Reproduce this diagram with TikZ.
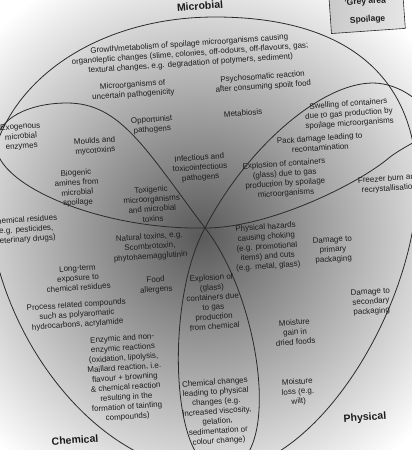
\documentclass[tikz,border=0pt]{standalone}
\usepackage{fontspec}
\setmainfont{Liberation Sans}
\definecolor{inkDark}{HTML}{1C1C1C}
\definecolor{lineDark}{HTML}{2B2B2B}
\definecolor{legendGray}{HTML}{C9C9C9}
\definecolor{legendLight}{HTML}{E6E6E6}

\begin{document}
\begin{tikzpicture}[
        x=1pt, y=-1pt,
        lbl/.style={align=center, inner sep=0pt, rotate=4, text=inkDark, font=\fontsize{8}{9.8}\selectfont},
        head/.style={lbl, font=\fontsize{10.5}{12}\selectfont\bfseries},
        petal/.style={draw=lineDark, line width=0.8pt},
        legendbox/.style={lbl, draw=lineDark, line width=0.6pt, left color=legendGray, right color=legendLight, minimum width=74pt, minimum height=40pt, font=\fontsize{8.5}{10}\selectfont\bfseries}
      ]
        \useasboundingbox (0,0) rectangle (412,450);
        \clip (0,0) rectangle (412,450);
        % grey area
        \shade[inner color=black!65, outer color=white] (200,236) circle (290pt);
        % outer boundary
        \draw[petal] (215,17) .. controls (345,17) and (417,75) .. (417,185)
            .. controls (417,300) and (320,472) .. (215,472)
            .. controls (90,472) and (-12,320) .. (-12,195)
            .. controls (-12,90) and (90,17) .. cycle;
        % petals
        \draw[petal] (205,228) .. controls (145,148) and (120,103) .. (67,103)
            .. controls (30,103) and (-4,118) .. (-4,145)
            .. controls (-4,185) and (100,230) .. cycle;
        \draw[petal] (205,228) .. controls (245,150) and (320,83) .. (373,83)
            .. controls (400,83) and (430,105) .. (430,124)
            .. controls (430,138) and (410,142) .. (390,157)
            .. controls (360,183) and (270,228) .. cycle;
        \draw[petal] (205,228) .. controls (165,300) and (170,470) .. (220,470)
            .. controls (285,470) and (262,300) .. cycle;
        % headings
        \node[head] (microbial) at (200,6) {Microbial};
        \node[head] (chemical) at (75,440) {Chemical};
        \node[head] (physical) at (365,418) {Physical};
        \node[legendbox] (legend) at (367,11) {'Grey area'\\[8pt]Spoilage};
        % microbial
        \node[lbl] (growth) at (190,54) {Growth/metabolism of spoilage microorganisms causing\\organoleptic changes (slime, colonies, off-odours, off-flavours, gas;\\textural changes, e.g. degradation of polymers, sediment)};
        \node[lbl] (uncertain) at (133,90) {Microorganisms of\\uncertain pathogenicity};
        \node[lbl] (psycho) at (263,82) {Psychosomatic reaction\\after consuming spoilt food};
        \node[lbl] (opportunist) at (152,125) {Opportunist\\pathogens};
        \node[lbl] (metabiosis) at (243,113) {Metabiosis};
        % microbial and chemical
        \node[lbl] (exogenous) at (21,137) {Exogenous\\microbial\\enzymes};
        \node[lbl] (moulds) at (95,146) {Moulds and\\mycotoxins};
        \node[lbl] (biogenic) at (77,188) {Biogenic\\amines from\\microbial\\spoilage};
        \node[lbl] (toxigenic) at (152,204) {Toxigenic\\microorganisms\\and microbial\\toxins};
        \node[lbl] (infectious) at (200,168) {Infectious and\\toxicoinfectious\\pathogens};
        % microbial and physical
        \node[lbl] (swelling) at (349,114) {Swelling of containers\\due to gas production by\\spoilage microorganisms};
        \node[lbl] (pack) at (320,143) {Pack damage leading to\\recontamination};
        \node[lbl] (explmicro) at (285,179) {Explosion of containers\\(glass) due to gas\\production by spoilage\\microorganisms};
        % chemical
        \node[lbl] (residues) at (25,230) {Chemical residues\\(e.g. pesticides,\\veterinary drugs)};
        \node[lbl] (natural) at (150,247) {Natural toxins, e.g.\\Scombrotoxin,\\phytohaemagglutinin};
        \node[lbl] (longterm) at (78,278) {Long-term\\exposure to\\chemical residues};
        \node[lbl] (allergens) at (156,285) {Food\\allergens};
        \node[lbl] (process) at (77,315) {Process related compounds\\such as polyaromatic\\hydrocarbons, acrylamide};
        \node[lbl] (enzymic) at (125,378) {Enzymic and non-\\enzymic reactions\\(oxidation, lipolysis,\\Maillard reaction, i.e.\\flavour + browning\\\& chemical reaction\\resulting in the\\formation of tainting\\compounds)};
        % chemical and physical
        \node[lbl] (explchem) at (213,302) {Explosion of\\(glass)\\containers due\\to gas\\production\\from chemical};
        \node[lbl] (chemchange) at (217,412) {Chemical changes\\leading to physical\\changes (e.g.\\increased viscosity,\\gelation,\\sedimentation or\\colour change)};
        % physical
        \node[lbl] (freezer) at (389,184) {Freezer burn and\\recrystallisation};
        \node[lbl] (hazards) at (267,247) {Physical hazards\\causing choking\\(e.g. promotional\\items) and cuts\\(e.g. metal, glass)};
        \node[lbl] (primary) at (333,250) {Damage to\\primary\\packaging};
        \node[lbl] (secondary) at (371,302) {Damage to\\secondary\\packaging};
        \node[lbl] (gain) at (295,332) {Moisture\\gain in\\dried foods};
        \node[lbl] (loss) at (298,392) {Moisture\\loss (e.g.\\wilt)};
      \end{tikzpicture}
\end{document}
